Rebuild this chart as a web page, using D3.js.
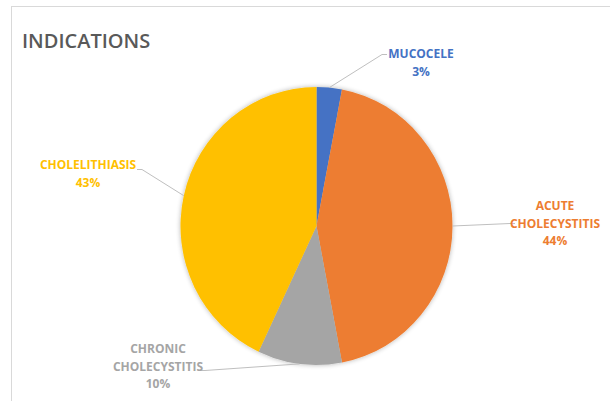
<!DOCTYPE html>
<html>
<head>
<meta charset="utf-8">
<script src="https://cdn.jsdelivr.net/npm/d3@7"></script>
<style>
  body { margin: 0; background: #fff; }
  text { font-family: "Open Sans", sans-serif; }
</style>
</head>
<body>
<div id="chart"></div>
<script>
// data
var categories = ["MUCOCELE", "ACUTE CHOLECYSTITIS", "CHRONIC CHOLECYSTITIS", "CHOLELITHIASIS"];
var values = [3, 44, 10, 43];
var colors = ["#4472C4", "#ED7D31", "#A5A5A5", "#FFC000"];
// label lines as drawn (word wrap)
var labelLines = [["MUCOCELE"], ["ACUTE", "CHOLECYSTITIS"], ["CHRONIC", "CHOLECYSTITIS"], ["CHOLELITHIASIS"]];

var width = 610, height = 401;
var cx = 316.5, cy = 226, r = 136, ry = 139;

// label anchors (center x, first baseline y, leader end x, y, side)
var labelPos = [
    {x: 421, y: 58, lx: 382, ly: 54.5, side: "left"},
    {x: 555, y: 210, lx: 510, ly: 223.5, side: "left"},
    {x: 158, y: 353, lx: 205, ly: 370.5, side: "right"},
    {x: 88, y: 169, lx: 142, ly: 169.5, side: "right"}
];

var svg = d3.select("#chart").append("svg")
    .attr("width", width)
    .attr("height", height);

var defs = svg.append("defs");
var f = defs.append("filter").attr("id", "shadow")
    .attr("x", "-10%").attr("y", "-10%").attr("width", "120%").attr("height", "120%");
f.append("feGaussianBlur").attr("in", "SourceAlpha").attr("stdDeviation", 2.5);
f.append("feOffset").attr("dx", 0).attr("dy", 0).attr("result", "blur");
f.append("feComponentTransfer").append("feFuncA").attr("type", "linear").attr("slope", 0.3);
var m = f.append("feMerge");
m.append("feMergeNode");
m.append("feMergeNode").attr("in", "SourceGraphic");

// frame
svg.append("rect")
    .attr("x", 11.5).attr("y", 6.5)
    .attr("width", 640).attr("height", 420)
    .attr("fill", "none")
    .attr("stroke", "#d9d9d9");

svg.append("text")
    .attr("x", 22).attr("y", 48)
    .attr("font-size", 20)
    .attr("font-weight", 600)
    .attr("fill", "#595959")
    .text("INDICATIONS");

var pie = d3.pie().sort(null).value(function(d) { return d; });
var arcs = pie(values);
var arc = d3.arc().innerRadius(0).outerRadius(r);
var edge = d3.arc().innerRadius(r).outerRadius(r);
var sy = ry / r;

var g = svg.append("g")
    .attr("transform", "translate(" + cx + "," + cy + ") scale(1," + sy + ")");

g.append("g")
    .attr("filter", "url(#shadow)")
    .selectAll("path")
    .data(arcs)
    .enter()
    .append("path")
    .attr("d", arc)
    .attr("fill", function(d, i) { return colors[i]; })
    .attr("stroke", "none");

// leader lines
arcs.forEach(function(d, i) {
    var c = edge.centroid(d);
    var p = labelPos[i];
    var x0 = cx + c[0], y0 = cy + c[1] * sy;
    svg.append("path")
        .attr("d", "M" + x0 + "," + y0 + "L" + p.lx + "," + p.ly + "L" + (p.side == "left" ? p.lx + 5 : p.lx - 5) + "," + p.ly)
        .attr("fill", "none")
        .attr("stroke", "#bfbfbf")
        .attr("stroke-width", 1);
});

// labels
categories.forEach(function(c, i) {
    var p = labelPos[i];
    var t = svg.append("text")
        .attr("text-anchor", "middle")
        .attr("font-size", 12)
        .attr("font-weight", 700)
        .attr("fill", colors[i]);
    var lines = labelLines[i].concat([values[i] + "%"]);
    lines.forEach(function(s, j) {
        t.append("tspan")
            .attr("x", p.x)
            .attr("y", p.y + j * 17.7)
            .text(s);
    });
});
</script>
</body>
</html>
